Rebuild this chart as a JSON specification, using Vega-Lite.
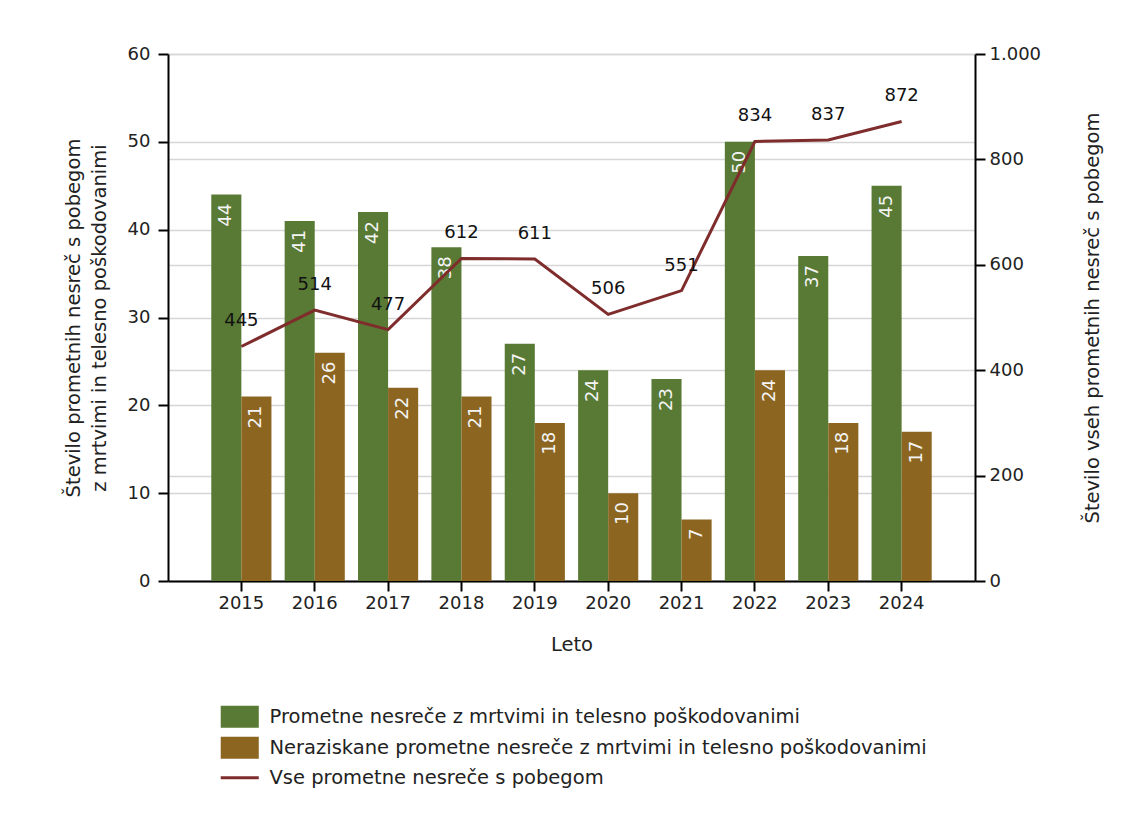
{
  "$schema": "https://vega.github.io/schema/vega-lite/v6.json",
  "width": 807,
  "height": 527,
  "autosize": {"type": "none"},
  "padding": {"left": 168, "top": 54, "right": 158, "bottom": 245},
  "background": "white",
  "config": {
    "font": "DejaVu Sans",
    "view": {"stroke": null},
    "axis": {
      "domainColor": "#000000",
      "domainWidth": 2,
      "tickColor": "#000000",
      "tickWidth": 2,
      "tickSize": 10,
      "labelFont": "DejaVu Sans",
      "labelFontSize": 18,
      "labelColor": "#222222",
      "titleFont": "DejaVu Sans",
      "titleFontSize": 19.5,
      "titleColor": "#222222",
      "titleFontWeight": "normal",
      "gridColor": "#d6d6d6",
      "gridWidth": 1.5
    },
    "legend": {
      "labelFont": "DejaVu Sans",
      "labelFontSize": 19.5,
      "labelColor": "#222222"
    }
  },
  "datasets": {
    "bars": [
      {"Leto": "2015", "Vrsta": "Prometne nesreče z mrtvimi in telesno poškodovanimi", "Stevilo": 44},
      {"Leto": "2016", "Vrsta": "Prometne nesreče z mrtvimi in telesno poškodovanimi", "Stevilo": 41},
      {"Leto": "2017", "Vrsta": "Prometne nesreče z mrtvimi in telesno poškodovanimi", "Stevilo": 42},
      {"Leto": "2018", "Vrsta": "Prometne nesreče z mrtvimi in telesno poškodovanimi", "Stevilo": 38},
      {"Leto": "2019", "Vrsta": "Prometne nesreče z mrtvimi in telesno poškodovanimi", "Stevilo": 27},
      {"Leto": "2020", "Vrsta": "Prometne nesreče z mrtvimi in telesno poškodovanimi", "Stevilo": 24},
      {"Leto": "2021", "Vrsta": "Prometne nesreče z mrtvimi in telesno poškodovanimi", "Stevilo": 23},
      {"Leto": "2022", "Vrsta": "Prometne nesreče z mrtvimi in telesno poškodovanimi", "Stevilo": 50},
      {"Leto": "2023", "Vrsta": "Prometne nesreče z mrtvimi in telesno poškodovanimi", "Stevilo": 37},
      {"Leto": "2024", "Vrsta": "Prometne nesreče z mrtvimi in telesno poškodovanimi", "Stevilo": 45},
      {"Leto": "2015", "Vrsta": "Neraziskane prometne nesreče z mrtvimi in telesno poškodovanimi", "Stevilo": 21},
      {"Leto": "2016", "Vrsta": "Neraziskane prometne nesreče z mrtvimi in telesno poškodovanimi", "Stevilo": 26},
      {"Leto": "2017", "Vrsta": "Neraziskane prometne nesreče z mrtvimi in telesno poškodovanimi", "Stevilo": 22},
      {"Leto": "2018", "Vrsta": "Neraziskane prometne nesreče z mrtvimi in telesno poškodovanimi", "Stevilo": 21},
      {"Leto": "2019", "Vrsta": "Neraziskane prometne nesreče z mrtvimi in telesno poškodovanimi", "Stevilo": 18},
      {"Leto": "2020", "Vrsta": "Neraziskane prometne nesreče z mrtvimi in telesno poškodovanimi", "Stevilo": 10},
      {"Leto": "2021", "Vrsta": "Neraziskane prometne nesreče z mrtvimi in telesno poškodovanimi", "Stevilo": 7},
      {"Leto": "2022", "Vrsta": "Neraziskane prometne nesreče z mrtvimi in telesno poškodovanimi", "Stevilo": 24},
      {"Leto": "2023", "Vrsta": "Neraziskane prometne nesreče z mrtvimi in telesno poškodovanimi", "Stevilo": 18},
      {"Leto": "2024", "Vrsta": "Neraziskane prometne nesreče z mrtvimi in telesno poškodovanimi", "Stevilo": 17}
    ],
    "line": [
      {"Leto": "2015", "Vrsta": "Vse prometne nesreče s pobegom", "Skupaj": 445},
      {"Leto": "2016", "Vrsta": "Vse prometne nesreče s pobegom", "Skupaj": 514},
      {"Leto": "2017", "Vrsta": "Vse prometne nesreče s pobegom", "Skupaj": 477},
      {"Leto": "2018", "Vrsta": "Vse prometne nesreče s pobegom", "Skupaj": 612},
      {"Leto": "2019", "Vrsta": "Vse prometne nesreče s pobegom", "Skupaj": 611},
      {"Leto": "2020", "Vrsta": "Vse prometne nesreče s pobegom", "Skupaj": 506},
      {"Leto": "2021", "Vrsta": "Vse prometne nesreče s pobegom", "Skupaj": 551},
      {"Leto": "2022", "Vrsta": "Vse prometne nesreče s pobegom", "Skupaj": 834},
      {"Leto": "2023", "Vrsta": "Vse prometne nesreče s pobegom", "Skupaj": 837},
      {"Leto": "2024", "Vrsta": "Vse prometne nesreče s pobegom", "Skupaj": 872}
    ]
  },
  "layer": [
    {
      "data": {"name": "bars"},
      "layer": [
        {
          "mark": {"type": "bar"},
          "encoding": {
            "x": {
              "field": "Leto", "type": "nominal",
              "scale": {"paddingInner": 0.18, "paddingOuter": 0.59},
              "axis": {"labelAngle": 0, "labelPadding": 3, "grid": false, "title": "Leto", "titleX": 403.5, "titleY": 63, "titleAlign": "center", "titleBaseline": "middle"}
            },
            "xOffset": {
              "field": "Vrsta", "type": "nominal",
              "scale": {"domain": ["Prometne nesreče z mrtvimi in telesno poškodovanimi", "Neraziskane prometne nesreče z mrtvimi in telesno poškodovanimi"], "paddingInner": 0, "paddingOuter": 0}
            },
            "y": {
              "field": "Stevilo", "type": "quantitative",
              "scale": {"domain": [0, 60]},
              "axis": {
                "values": [0, 10, 20, 30, 40, 50, 60],
                "grid": true,
                "labelPadding": 8,
                "title": ["Število prometnih nesreč s pobegom", "z mrtvimi in telesno poškodovanimi"],
                "titleAngle": 270,
                "titleAlign": "center",
                "titleBaseline": "middle",
                "titleLineHeight": 26,
                "titleX": -95,
                "titleY": 263.5
              }
            },
            "color": {
              "field": "Vrsta", "type": "nominal",
              "scale": {
                "domain": ["Prometne nesreče z mrtvimi in telesno poškodovanimi", "Neraziskane prometne nesreče z mrtvimi in telesno poškodovanimi", "Vse prometne nesreče s pobegom"],
                "range": ["#587a34", "#8c6621", "#7f2c2c"]
              },
              "legend": {
                "title": null,
                "orient": "none",
                "legendX": 62,
                "legendY": 653,
                "padding": 0,
                "rowPadding": 8,
                "labelOffset": 20,
                "labelLimit": 900,
                "symbolSize": 484,
                "symbolStrokeWidth": 0,
                "encode": {
                  "symbols": {
                    "update": {
                      "shape": {"signal": "datum.label == 'Vse prometne nesreče s pobegom' ? 'M-1.73,0H1.73' : 'M-1.73,-1H1.73V1H-1.73Z'"},
                      "fill": {"signal": "datum.label == 'Vse prometne nesreče s pobegom' ? 'transparent' : scale('color', datum.value)"},
                      "stroke": {"signal": "scale('color', datum.value)"},
                      "strokeWidth": {"signal": "datum.label == 'Vse prometne nesreče s pobegom' ? 3 : 0"},
                      "size": {"value": 484},
                      "opacity": {"value": 1}
                    }
                  }
                }
              }
            }
          }
        },
        {
          "mark": {"type": "text", "angle": 270, "align": "right", "baseline": "middle", "dx": -9, "fontSize": 18, "color": "#f4f4f4"},
          "encoding": {
            "x": {"field": "Leto", "type": "nominal"},
            "xOffset": {"field": "Vrsta", "type": "nominal"},
            "y": {"field": "Stevilo", "type": "quantitative"},
            "text": {"field": "Stevilo", "type": "quantitative"}
          }
        }
      ]
    },
    {
      "data": {"name": "line"},
      "layer": [
        {
          "mark": {"type": "line", "strokeWidth": 3},
          "encoding": {
            "x": {"field": "Leto", "type": "nominal"},
            "y": {
              "field": "Skupaj", "type": "quantitative",
              "scale": {"domain": [0, 1000]},
              "axis": {
                "orient": "right",
                "values": [0, 200, 400, 600, 800, 1000],
                "grid": true,
                "labelPadding": 4,
                "labelExpr": "replace(format(datum.value, ','), ',', '.')",
                "title": "Število vseh prometnih nesreč s pobegom",
                "titleAngle": 270,
                "titleAlign": "center",
                "titleBaseline": "middle",
                "titleX": 117,
                "titleY": 263.5
              }
            },
            "color": {"field": "Vrsta", "type": "nominal"}
          }
        },
        {
          "mark": {"type": "text", "baseline": "middle", "align": "center", "dy": -25, "fontSize": 18, "color": "#111111"},
          "encoding": {
            "x": {"field": "Leto", "type": "nominal"},
            "y": {"field": "Skupaj", "type": "quantitative"},
            "text": {"field": "Skupaj", "type": "quantitative"}
          }
        }
      ]
    }
  ],
  "resolve": {"scale": {"y": "independent"}}
}
